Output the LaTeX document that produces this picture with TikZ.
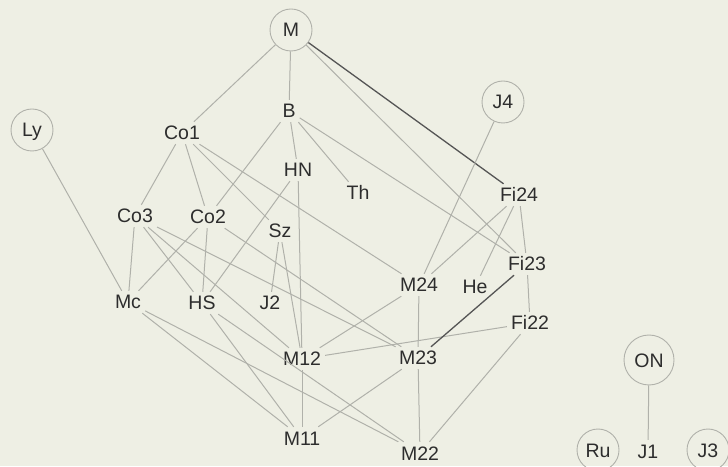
\documentclass[tikz,border=0pt]{standalone}
\usepackage{fontspec}
\setmainfont{Liberation Sans}
\definecolor{bg}{RGB}{238,239,228}
\definecolor{edgec}{RGB}{176,177,170}
\definecolor{darkedge}{RGB}{85,85,85}
\definecolor{txt}{RGB}{45,45,45}
\begin{document}
\begin{tikzpicture}[x=1pt,y=1pt,
  lbl/.style={font=\fontsize{19.5}{22}\selectfont, text=txt, inner sep=4pt, text height=14pt, text depth=0pt},
  ring/.style={lbl, circle, draw=edgec, line width=0.9pt, minimum size=42pt, inner sep=0pt},
  ln/.style={draw=edgec, line width=1pt},
  dk/.style={draw=darkedge, line width=1.3pt}]
\fill[bg] (0,0) rectangle (728,466);
\useasboundingbox (0,0) rectangle (728,466);
% circled nodes
\node[ring] (M) at (291,436) {M};
\node[ring] (Ly) at (32,336) {Ly};
\node[ring] (J4) at (503,364) {J4};
\node[ring, minimum size=50pt] (ON) at (649,106) {ON};
\node[ring] (Ru) at (598,16) {Ru};
\node[ring] (J3) at (708,16) {J3};
% text nodes
\node[lbl] (J1) at (648,15) {J1};
\node[lbl] (B) at (289,355) {B};
\node[lbl] (Co1) at (182,333) {Co1};
\node[lbl] (HN) at (298,296) {HN};
\node[lbl] (Th) at (358,273) {Th};
\node[lbl] (Co3) at (135,250) {Co3};
\node[lbl] (Co2) at (208,249) {Co2};
\node[lbl] (Sz) at (280,235) {Sz};
\node[lbl] (Fi24) at (519,271) {Fi24};
\node[lbl] (Fi23) at (527,202) {Fi23};
\node[lbl] (M24) at (419,181) {M24};
\node[lbl] (He) at (475,179) {He};
\node[lbl] (Fi22) at (530,143) {Fi22};
\node[lbl] (Mc) at (128,164) {Mc};
\node[lbl] (HS) at (202,163) {HS};
\node[lbl] (J2) at (270,163) {J2};
\node[lbl] (M12) at (302,107) {M12};
\node[lbl] (M23) at (418,108) {M23};
\node[lbl] (M11) at (302,28) {M11};
\node[lbl] (M22) at (420,13) {M22};
% edges
\draw[ln] (M) -- (Co1);
\draw[ln] (M) -- (B);
\draw[ln] (M) -- (Fi23);
\draw[dk] (M) -- (Fi24);
\draw[ln] (B) -- (Co2);
\draw[ln] (B) -- (HN);
\draw[ln] (B) -- (Th);
\draw[ln] (B) -- (Fi23);
\draw[ln] (Co1) -- (Co3);
\draw[ln] (Co1) -- (Co2);
\draw[ln] (Co1) -- (Sz);
\draw[ln] (Co1) -- (M24);
\draw[ln] (HN) -- (HS);
\draw[ln] (HN) -- (M12);
\draw[ln] (Sz) -- (J2);
\draw[ln] (Sz) -- (M12);
\draw[ln] (Co3) -- (Mc);
\draw[ln] (Co3) -- (HS);
\draw[ln] (Co3) -- (M12);
\draw[ln] (Co3) -- (M23);
\draw[ln] (Co2) -- (Mc);
\draw[ln] (Co2) -- (HS);
\draw[ln] (Co2) -- (M23);
\draw[ln] (Ly) -- (Mc);
\draw[ln] (Mc) -- (M11);
\draw[ln] (Mc) -- (M22);
\draw[ln] (HS) -- (M11);
\draw[ln] (HS) -- (M22);
\draw[ln] (M12) -- (M11);
\draw[ln] (M12) -- (M24);
\draw[ln] (M12) -- (Fi22);
\draw[ln] (M23) -- (M24);
\draw[dk] (M23) -- (Fi23);
\draw[ln] (M23) -- (M11);
\draw[ln] (M23) -- (M22);
\draw[ln] (M22) -- (Fi22);
\draw[ln] (J4) -- (M24);
\draw[ln] (Fi24) -- (M24);
\draw[ln] (Fi24) -- (He);
\draw[ln] (Fi24) -- (Fi23);
\draw[ln] (Fi23) -- (Fi22);
\draw[ln] (ON) -- (J1);
\end{tikzpicture}
\end{document}
